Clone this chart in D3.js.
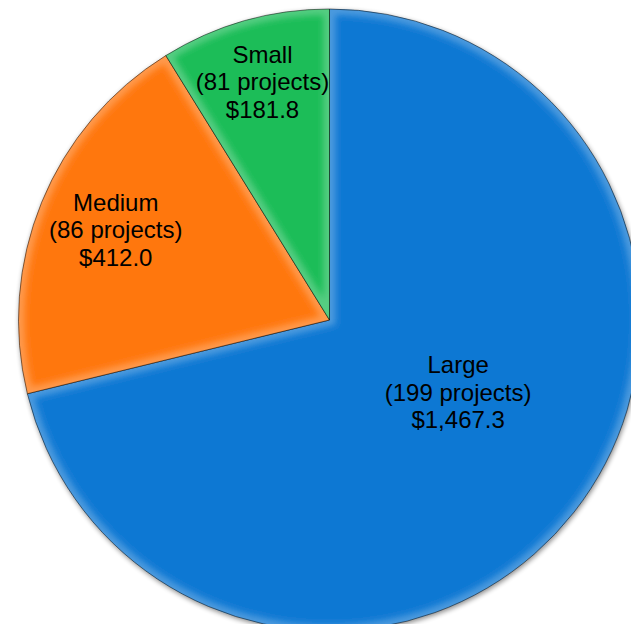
<!DOCTYPE html>
<html>
<head>
<meta charset="utf-8">
<script src="https://cdn.jsdelivr.net/npm/d3@7"></script>
<style>
  html, body { margin: 0; padding: 0; background: #ffffff; }
  svg { display: block; }
</style>
</head>
<body>
<svg id="chart" width="631" height="624"></svg>
<script>
// ---- data ----
const categories = ["Large", "Medium", "Small"];
const projectCounts = [199, 86, 81];
const amounts = [1467.3, 412.0, 181.8];
const amountLabels = ["$1,467.3", "$412.0", "$181.8"];

// ---- style / layout ----
const colors = ["#0f78d3", "#ff770f", "#1cbd58"];
const center = [329.5, 320];
const radius = 311;
// label placement (angle in degrees clockwise from top, radius in px)
const labelPlacement = [
  { angle: 120.3, r: 149 },
  { angle: null, r: 231 },
  { angle: null, r: 245 }
];
const labelShiftY = -3;
const fontSize = 24;
const lineGap = 27.5;

const svg = d3.select("#chart");
const defs = svg.append("defs");

const shadow = defs.append("filter").attr("id", "shadow")
  .attr("x", "-10%").attr("y", "-10%").attr("width", "120%").attr("height", "120%");
shadow.append("feGaussianBlur").attr("in", "SourceAlpha").attr("stdDeviation", 2.5).attr("result", "b");
shadow.append("feOffset").attr("in", "b").attr("dx", 1).attr("dy", 2).attr("result", "o");
shadow.append("feComponentTransfer").attr("in", "o").attr("result", "s")
  .append("feFuncA").attr("type", "linear").attr("slope", 0.45);
const m = shadow.append("feMerge");
m.append("feMergeNode").attr("in", "s");
m.append("feMergeNode").attr("in", "SourceGraphic");

const blur = defs.append("filter").attr("id", "soft")
  .attr("x", "-10%").attr("y", "-10%").attr("width", "120%").attr("height", "120%");
blur.append("feGaussianBlur").attr("stdDeviation", 3);

const data = categories.map((c, i) => ({
  category: c, count: projectCounts[i], value: amounts[i], label: amountLabels[i], i
}));

const pie = d3.pie().sort(null).value(d => d.value);
const arcs = pie(data);
const arc = d3.arc().innerRadius(0).outerRadius(radius);

const g = svg.append("g").attr("transform", `translate(${center[0]},${center[1]})`);
const pieG = g.append("g").attr("filter", "url(#shadow)");

arcs.forEach((a, i) => {
  defs.append("clipPath").attr("id", "clip" + i)
    .append("path").attr("d", arc(a));
});

const slices = pieG.selectAll("g.slice").data(arcs).join("g").attr("class", "slice");

slices.append("path")
  .attr("d", arc)
  .attr("fill", (d, i) => colors[i]);

// bevel highlight along slice edges
slices.append("g")
  .attr("clip-path", (d, i) => `url(#clip${i})`)
  .append("path")
  .attr("d", arc)
  .attr("fill", "none")
  .attr("stroke", "#ffffff")
  .attr("stroke-opacity", 0.25)
  .attr("stroke-width", 12)
  .attr("filter", "url(#soft)");

slices.append("path")
  .attr("d", arc)
  .attr("fill", "none")
  .attr("stroke", "rgba(0,0,0,0.55)")
  .attr("stroke-width", 0.9)
  .attr("stroke-linejoin", "round");

// labels
const labels = g.selectAll("text.lbl").data(arcs).join("text")
  .attr("class", "lbl")
  .attr("text-anchor", "middle")
  .attr("font-family", "Liberation Sans, Arial, sans-serif")
  .attr("font-size", fontSize)
  .attr("fill", "#000")
  .each(function(d, i) {
    const p = labelPlacement[i];
    const ang = p.angle !== null ? p.angle * Math.PI / 180 : (d.startAngle + d.endAngle) / 2;
    const [x, y] = d3.pointRadial(ang, p.r);
    const t = d3.select(this);
    const lines = [d.data.category, `(${d.data.count} projects)`, d.data.label];
    lines.forEach((ln, k) => {
      t.append("tspan")
        .attr("x", x)
        .attr("y", y + labelShiftY + (k - 1) * lineGap + fontSize * 0.36)
        .text(ln);
    });
  });
</script>
</body>
</html>
